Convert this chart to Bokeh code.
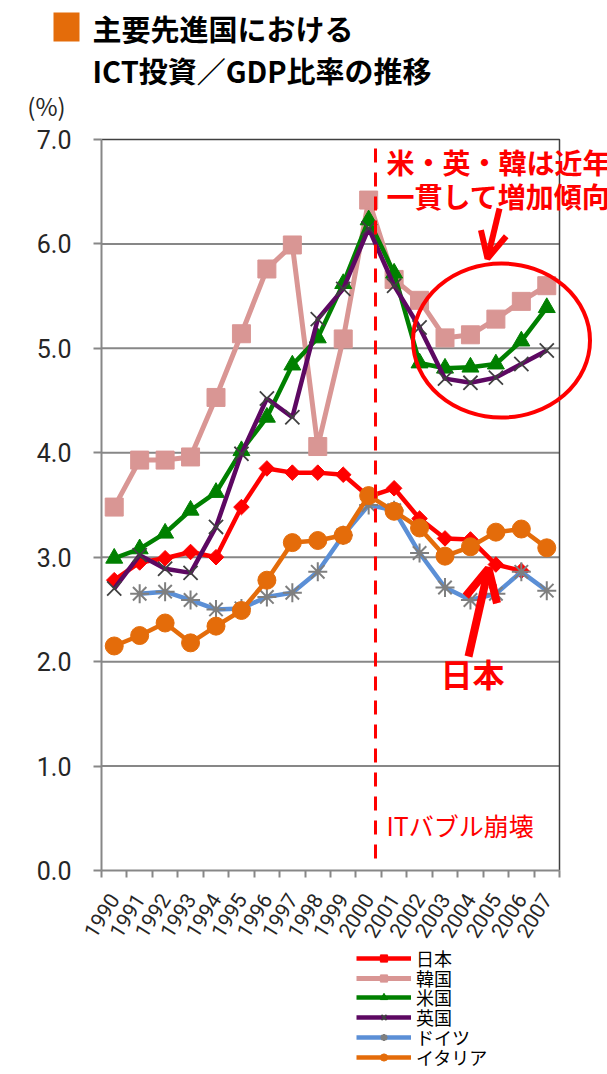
import math
from bokeh.plotting import figure
from bokeh.models import (Range1d, FixedTicker, PrintfTickFormatter, Label, Legend,
                          LegendItem, Arrow, OpenHead)
from bokeh.embed import file_html
from bokeh.resources import INLINE

# ---------------- data ----------------
years = ["1990", "1991", "1992", "1993", "1994", "1995", "1996", "1997", "1998",
         "1999", "2000", "2001", "2002", "2003", "2004", "2005", "2006", "2007"]
nan = float("nan")
japan = [2.78, 2.95, 2.99, 3.05, 3.00, 3.48, 3.85, 3.81, 3.81, 3.79, 3.58, 3.66,
         3.37, 3.18, 3.17, 2.93, 2.87, nan]
korea = [3.48, 3.93, 3.93, 3.96, 4.53, 5.14, 5.76, 5.99, 4.06, 5.09, 6.42, 5.66,
         5.46, 5.10, 5.13, 5.28, 5.45, 5.60]
usa = [2.99, 3.08, 3.23, 3.45, 3.62, 4.02, 4.34, 4.84, 5.10, 5.62, 6.23, 5.72,
       4.86, 4.81, 4.82, 4.85, 5.07, 5.39]
uk = [2.70, 3.02, 2.89, 2.85, 3.29, 3.99, 4.52, 4.34, 5.28, 5.57, 6.15, 5.60,
      5.20, 4.71, 4.67, 4.72, 4.85, 4.98]
germany = [nan, 2.65, 2.67, 2.59, 2.50, 2.51, 2.62, 2.66, 2.86, 3.21, 3.50, 3.45,
           3.04, 2.71, 2.59, 2.65, 2.86, 2.68]
italy = [2.15, 2.25, 2.37, 2.18, 2.34, 2.49, 2.78, 3.14, 3.16, 3.21, 3.59, 3.44,
         3.28, 3.01, 3.10, 3.24, 3.27, 3.09]
series_names = ["日本", "韓国", "米国", "英国", "ドイツ", "イタリア"]
y_ticks = [0, 1, 2, 3, 4, 5, 6, 7]

# ---------------- geometry (page pixels) ----------------
W, H = 607, 1072
FRAME_L, FRAME_B = 101, 870
XPX = (559 - 101) / 18.0
YPX = (870 - 139) / 7.0
JP = "Noto Sans CJK JP"
GRAY = "#878787"
LEG_TOP_ROW, LEG_ROW = 958, 19.7


def fx(px):
    return (px - FRAME_L) / XPX - 0.5


def fy(py):
    return (FRAME_B - py) / YPX


xs = list(range(len(years)))
p = figure(width=W, height=H,
           x_range=Range1d(fx(0), fx(W)), y_range=Range1d(fy(H), fy(0)),
           output_backend="svg", toolbar_location=None, min_border=0)
p.outline_line_color = None
p.xgrid.visible = False
p.ygrid.visible = False
p.background_fill_color = "white"
p.border_fill_color = "white"

ya = p.yaxis[0]
ya.fixed_location = -0.5
ya.ticker = FixedTicker(ticks=y_ticks)
ya.formatter = PrintfTickFormatter(format="%.1f")
ya.bounds = (0, 7)
ya.axis_line_color = GRAY
ya.axis_line_width = 2
ya.major_tick_line_color = GRAY
ya.major_tick_line_width = 2
ya.major_tick_out = 8
ya.major_tick_in = 0
ya.minor_tick_line_color = None
ya.major_label_standoff = 22
ya.major_label_text_font = "Roboto"
ya.major_label_text_font_size = "25px"
ya.major_label_text_color = "#262626"

xa = p.xaxis[0]
xa.fixed_location = 0
xa.ticker = FixedTicker(ticks=xs, minor_ticks=[i - 0.5 for i in range(len(years) + 1)])
xa.major_label_overrides = {i: years[i] for i in xs}
xa.bounds = (-0.5, len(years) - 0.5)
xa.axis_line_color = GRAY
xa.axis_line_width = 2
xa.major_tick_line_color = None
xa.major_tick_out = 0
xa.major_tick_in = 0
xa.minor_tick_line_color = GRAY
xa.minor_tick_line_width = 2
xa.minor_tick_out = 7
xa.minor_tick_in = 0
xa.major_label_orientation = 1.01
xa.major_label_standoff = 18
xa.major_label_text_font = "Roboto"
xa.major_label_text_font_size = "21px"
xa.major_label_text_color = "#262626"

grid_vals = [v for v in y_ticks if 0 < v < 7]
p.multi_line(xs=[[-0.5, len(years) - 0.5] for _ in grid_vals],
             ys=[[v, v] for v in grid_vals], line_color=GRAY, line_width=2)
p.line(x=[-0.5, len(years) - 0.5, len(years) - 0.5], y=[7, 7, 0],
       line_color="#404040", line_width=1.5)

line_cols = ["#FF0000", "#D99694", "#008000", "#5D0862", "#5B8FD6", "#E46C0A"]
line_ws = [4.5, 5, 4.5, 4.5, 4.5, 4.5]
markers = [
    dict(marker="square", angle=math.pi / 4, fill_color="#FF0000", line_color="#FF0000"),
    dict(marker="square", fill_color="#D99694", line_color="#D99694"),
    dict(marker="triangle", fill_color="#008000", line_color="#008000"),
    dict(marker="x", line_color="#404040", line_width=1.8),
    dict(marker="asterisk", line_color="#7F7F7F", line_width=2),
    dict(marker="circle", fill_color="#E46C0A", line_color="#E46C0A"),
]
chart_sizes = [11, 18, 17, 20, 19, 18]
legend_sizes = [8, 13, 12, 14, 14, 13]
all_vals = [japan, korea, usa, uk, germany, italy]

for k, (name, vals, col, lw, mk, sz, lsz) in enumerate(
        zip(series_names, all_vals, line_cols, line_ws, markers, chart_sizes, legend_sizes)):
    p.line(x=xs, y=vals, line_color=col, line_width=lw)
    p.scatter(x=xs, y=vals, size=sz, **mk)
    # legend proxies (no visible points), one legend row each
    lr = p.line(x=[nan], y=[nan], line_color=col, line_width=lw)
    sr = p.scatter(x=[nan], y=[nan], size=lsz, **mk)
    row_c = LEG_TOP_ROW + k * LEG_ROW
    p.add_layout(Legend(items=[LegendItem(label=name, renderers=[lr, sr])],
                        location=(356, H - (row_c + 13)),
                        orientation="vertical", padding=0, margin=0, spacing=0,
                        glyph_width=55, glyph_height=18, label_height=18,
                        label_standoff=5, label_text_font=JP,
                        label_text_font_size="18px", label_text_color="#000000",
                        border_line_color=None, background_fill_alpha=0))

# ---------------- annotations ----------------
DIV_X = fx(375)
p.line(x=[DIV_X, DIV_X], y=[fy(858), fy(146)], line_color="#FF0000",
       line_width=3, line_dash="14 10")
p.ellipse(x=[fx(501)], y=[fy(340)], width=177, height=154, width_units="screen",
          height_units="screen", fill_color=None, line_color="#FF0000", line_width=4)
p.add_layout(Arrow(end=OpenHead(line_color="#FF0000", line_width=6, size=26),
                   x_start=fx(499), y_start=fy(208), x_end=fx(487), y_end=fy(258),
                   line_color="#FF0000", line_width=6))
p.add_layout(Arrow(end=OpenHead(line_color="#FF0000", line_width=8, size=32),
                   x_start=fx(468), y_start=fy(656), x_end=fx(488), y_end=fy(568),
                   line_color="#FF0000", line_width=8))


def lab(x, y, text, size, color="#FF0000", bold=False, align="left"):
    p.add_layout(Label(x=fx(x), y=fy(y), text=text, text_font=JP,
                       text_font_size=size, text_color=color,
                       text_font_style="bold" if bold else "normal",
                       text_align=align, text_baseline="middle"))


# title block
p.quad(left=[fx(53)], right=[fx(79)], top=[fy(12)], bottom=[fy(41)],
       fill_color="#E46C0A", line_color=None)
lab(92, 27, "主要先進国における", "29px", color="#000000", bold=True)
lab(92, 69, "ICT投資／GDP比率の推移", "29px", color="#000000", bold=True)
lab(46, 105, "(%)", "24px", color="#262626", align="center")

lab(386, 161, "米・英・韓は近年", "28px", bold=True)
lab(386, 195, "一貫して増加傾向", "28px", bold=True)
lab(472, 672, "日本", "32px", bold=True, align="center")
lab(386, 824, "ITバブル崩壊", "25px")

open("out.html", "w").write(file_html(p, INLINE))
